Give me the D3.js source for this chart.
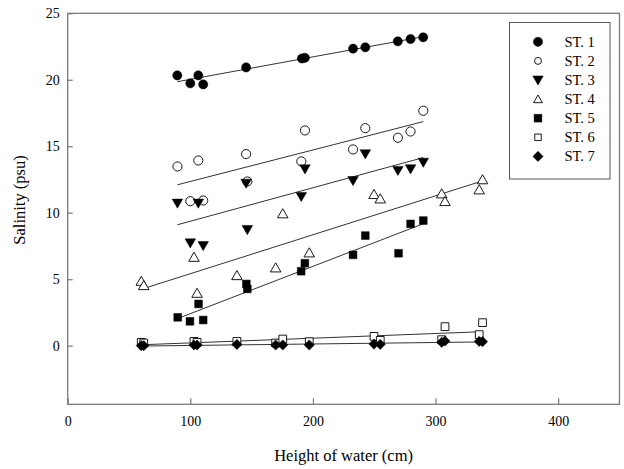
<!DOCTYPE html>
<html><head><meta charset="utf-8">
<script src="https://cdn.jsdelivr.net/npm/d3@7"></script>
<style>body{margin:0;background:#fff}svg{display:block}text{font-family:"Liberation Serif","Times New Roman",serif;fill:#000}</style>
</head><body><svg id="c" width="624" height="469"></svg>
<script>
const seriesNames = ["ST. 1","ST. 2","ST. 3","ST. 4","ST. 5","ST. 6","ST. 7"];
const xGroupA = [89.5,100,106.5,110.5,145.5,146.5,190.5,193.5,232.7,242.7,269.3,279.6,290];
const xGroupB = [60,62,103,105.5,138,169.6,175.4,197,249.8,254.9,305,307.7,335.6,338.3];
const st1x = [89.4,100,106.5,110.5,145.5,191,193.4,232.7,242.7,269.2,279.6,289.9];
const st5x = [89.7,99.7,106.7,110.5,145.7,146.5,190.4,193.4,232.7,242.7,269.8,279.6,290];
const st1y = [20.33,19.73,20.33,19.65,20.93,21.6,21.65,22.34,22.44,22.89,23.06,23.19];
const st2y = [13.48,10.87,13.93,10.92,14.41,12.35,13.86,16.19,14.76,16.36,15.64,16.11,17.67];
const st3y = [10.72,7.73,10.72,7.53,12.22,8.73,11.22,13.3,12.42,14.43,13.18,13.3,13.8];
const st4y = [4.84,4.52,6.65,3.94,5.27,5.85,9.92,6.98,11.37,11.04,11.42,10.84,11.72,12.48];
const st5y = [2.13,1.83,3.14,1.93,4.64,4.27,5.6,6.2,6.83,8.28,6.95,9.16,9.41];
const st6y = [0.25,0.2,0.32,0.25,0.32,0.2,0.5,0.3,0.7,0.4,0.45,1.43,0.83,1.73];
const st7y = [0.0,0.0,0.05,0.05,0.09,0.05,0.05,0.05,0.12,0.1,0.25,0.35,0.32,0.3];
const xTicks = [0,100,200,300,400];
const yTicks = [0,5,10,15,20,25];

const series = [
  {name:seriesNames[0], x:st1x, y:st1y, sym:"circle", fill:true},
  {name:seriesNames[1], x:xGroupA, y:st2y, sym:"circle", fill:false},
  {name:seriesNames[2], x:xGroupA, y:st3y, sym:"tridown", fill:true},
  {name:seriesNames[3], x:xGroupB, y:st4y, sym:"triup", fill:false},
  {name:seriesNames[4], x:st5x, y:st5y, sym:"square", fill:true},
  {name:seriesNames[5], x:xGroupB, y:st6y, sym:"square", fill:false},
  {name:seriesNames[6], x:xGroupB, y:st7y, sym:"diamond", fill:true}
];

const svg = d3.select("#c");
const L=67.7,R=619.5,T=13.3,B=404.3;
const x = d3.scaleLinear().domain([0,450]).range([L,R]);
const y = d3.scaleLinear().domain([-4.41,25]).range([B,T]);

function symPath(s){
  if(s==="circle") return d3.symbol(d3.symbolCircle,66)();
  if(s==="square") return d3.symbol(d3.symbolSquare,60)();
  if(s==="diamond") return d3.symbol(d3.symbolSquare,52)();
  return d3.symbol(d3.symbolTriangle,48)();
}
function symTransform(s,px,py){
  let t=`translate(${px},${py})`;
  if(s==="tridown") t+=" rotate(180) translate(0,1)";
  if(s==="diamond") t+=" rotate(45)";
  if(s==="triup") t+=" translate(0,1)";
  return t;
}

const frameCol="#7a7a7a";
svg.append("rect").attr("x",L).attr("y",T).attr("width",R-L).attr("height",B-T)
  .attr("fill","none").attr("stroke",frameCol).attr("stroke-width",1.3);

const xAxis = svg.append("g").attr("transform",`translate(0,${B})`)
  .call(d3.axisBottom(x).tickValues(xTicks).tickSizeInner(-6).tickSizeOuter(0).tickPadding(12));
const yAxis = svg.append("g").attr("transform",`translate(${L},0)`)
  .call(d3.axisLeft(y).tickValues(yTicks).tickSizeInner(-5).tickSizeOuter(0).tickPadding(8));
[xAxis,yAxis].forEach(a=>{
  a.select(".domain").remove();
  a.selectAll("line").attr("stroke",frameCol).attr("stroke-width",1.2);
  a.selectAll("text").style("font-family",'"Liberation Serif",serif').style("font-size","14px").attr("fill","#000");
});

series.forEach(s=>{
  const n=s.x.length, mx=d3.mean(s.x), my=d3.mean(s.y);
  let sxy=0,sxx=0;
  for(let i=0;i<n;i++){sxy+=(s.x[i]-mx)*(s.y[i]-my);sxx+=(s.x[i]-mx)**2;}
  const b=sxy/sxx,a=my-b*mx;
  const x0=d3.min(s.x),x1=d3.max(s.x);
  svg.append("line").attr("x1",x(x0)).attr("y1",y(a+b*x0)).attr("x2",x(x1)).attr("y2",y(a+b*x1))
    .attr("stroke","#333").attr("stroke-width",1);
});

series.forEach(s=>{
  svg.append("g").selectAll("path").data(s.x.map((v,i)=>[v,s.y[i]])).join("path")
    .attr("d",symPath(s.sym))
    .attr("transform",d=>symTransform(s.sym,x(d[0]),y(d[1])))
    .attr("fill",s.fill?"#000":"#fff").attr("stroke","#000").attr("stroke-width",s.fill?0.5:0.9);
});

const lg = svg.append("g");
lg.append("rect").attr("x",509.5).attr("y",22.5).attr("width",100.5).attr("height",156.5)
  .attr("fill","#fff").attr("stroke","#555").attr("stroke-width",1);
series.forEach((s,i)=>{
  const cy=41.8+19.1*i;
  const isFilled=s.fill;
  lg.append("path").attr("d",(s.sym==="circle"&&!isFilled)?d3.symbol(d3.symbolCircle,38)():
      (s.sym==="square"&&!isFilled)?d3.symbol(d3.symbolSquare,42)():
      (s.sym==="triup")?d3.symbol(d3.symbolTriangle,34)():symPath(s.sym))
    .attr("transform",symTransform(s.sym,538,cy))
    .attr("fill",isFilled?"#000":"#fff").attr("stroke","#000").attr("stroke-width",isFilled?0.5:0.9);
  lg.append("text").attr("x",564.5).attr("y",cy+5).style("font-size","14.5px").text(s.name);
});

svg.append("text").attr("x",(L+R)/2).attr("y",461).attr("text-anchor","middle").style("font-size","16.5px").text("Height of water (cm)");
svg.append("text").attr("transform",`translate(25,200) rotate(-90)`).attr("text-anchor","middle").style("font-size","16.5px").text("Salinity (psu)");
</script></body></html>
